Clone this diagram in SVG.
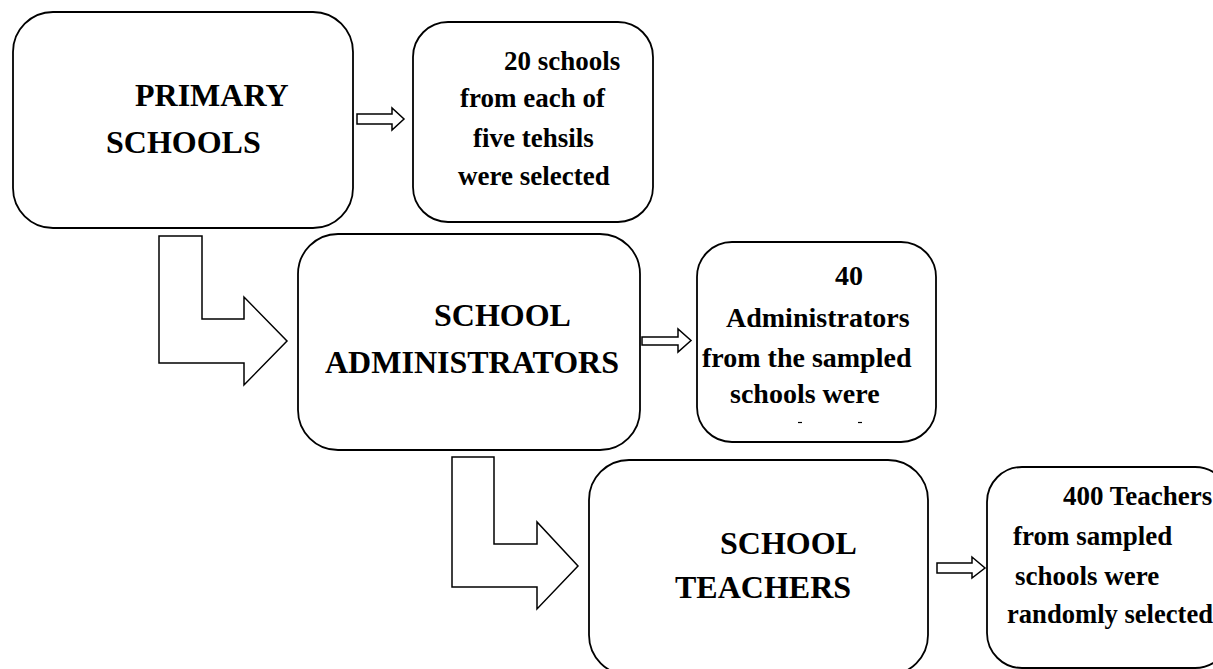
<svg xmlns="http://www.w3.org/2000/svg" width="1213" height="669" viewBox="0 0 1213 669">
  <style>
    .box { fill: #fff; stroke: #000; stroke-width: 1.8; }
    .arrow { fill: #fff; stroke: #000; stroke-width: 1.5; stroke-linejoin: miter; }
    text { font-family: "Liberation Serif", "Times New Roman", serif; font-weight: bold; fill: #000; }
    .main { font-size: 32px; }
    .note { font-size: 27px; }
    .note-lg { font-size: 28px; }
    .note-sm { font-size: 26.6px; }
  </style>
  <rect width="1213" height="669" fill="#fff"/>

  <!-- connectors: bent block arrows between levels, small block arrows to the notes -->
  <g id="connectors">
    <polygon class="arrow" points="159,236 202,236 202,319 244,319 244,297 287,341 244,385 244,363 159,363"/>
    <polygon class="arrow" points="452,457 494,457 494,544 537,544 537,522 578,566 537,609 537,587 452,587"/>
    <polygon class="arrow" points="357,114 392,114 392,108 404,119 392,130 392,124 357,124"/>
    <polygon class="arrow" points="642,337 678,337 678,329 691,340.5 678,352 678,345 642,345"/>
    <polygon class="arrow" points="937,563 972,563 972,557 985,568 972,578 972,573 937,573"/>
  </g>

  <g id="primary-schools">
    <rect class="box" x="13" y="12" width="340" height="216" rx="40" ry="40"/>
    <text class="main" x="135" y="106">PRIMARY</text>
    <text class="main" x="106" y="153">SCHOOLS</text>
  </g>

  <g id="schools-note">
    <rect class="box" x="413" y="22" width="240" height="200" rx="35" ry="35"/>
    <text class="note" x="504" y="70">20 schools</text>
    <text class="note" x="460" y="107">from each of</text>
    <text class="note" x="473" y="147">five tehsils</text>
    <text class="note" x="458" y="185">were selected</text>
  </g>

  <g id="school-administrators">
    <rect class="box" x="298" y="234" width="342" height="216" rx="40" ry="40"/>
    <text class="main" x="434" y="326">SCHOOL</text>
    <text class="main" x="325" y="373">ADMINISTRATORS</text>
  </g>

  <g id="administrators-note">
    <rect class="box" x="697" y="242" width="239" height="200" rx="35" ry="35"/>
    <text class="note-lg" x="835" y="285">40</text>
    <text class="note-lg" x="726" y="327">Administrators</text>
    <text class="note-lg" x="702" y="367">from the sampled</text>
    <text class="note-lg" x="730" y="403">schools were</text>
    <line x1="798" y1="422.5" x2="802" y2="422.5" stroke="#000" stroke-width="1.2"/>
    <line x1="858" y1="422.5" x2="862" y2="422.5" stroke="#000" stroke-width="1.2"/>
  </g>

  <g id="school-teachers">
    <rect class="box" x="589" y="460" width="339" height="215" rx="40" ry="40"/>
    <text class="main" x="720" y="554">SCHOOL</text>
    <text class="main" x="675" y="598">TEACHERS</text>
  </g>

  <g id="teachers-note">
    <rect class="box" x="987" y="467" width="243" height="201" rx="35" ry="35"/>
    <text class="note" x="1063" y="505">400 Teachers</text>
    <text class="note" x="1013" y="545">from sampled</text>
    <text class="note" x="1015" y="585">schools were</text>
    <text class="note-sm" x="1007" y="623">randomly selected</text>
  </g>
</svg>
